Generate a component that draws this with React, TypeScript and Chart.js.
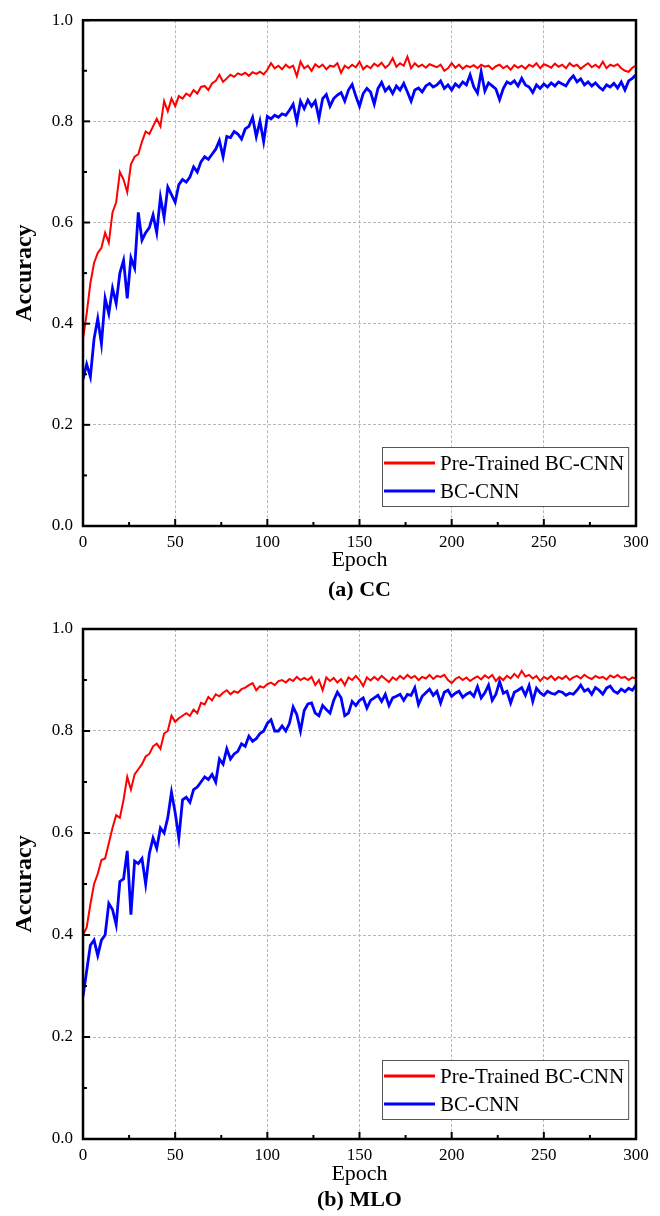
import React, { useEffect, useRef } from "react";
import { Chart, registerables } from "chart.js";

Chart.register(...registerables);

// ---------- data ----------
const EPOCHS = Array.from({ length: 151 }, (_, i) => i * 2);
const SERIES_LABELS = ["Pre-Trained BC-CNN", "BC-CNN"];
const SERIES_COLORS = ["#ff0000", "#0000ff"];
const X_LABEL = "Epoch";
const Y_LABEL = "Accuracy";
const CAPTIONS = ["(a) CC", "(b) MLO"];

const CC_PRETRAINED = [
  0.37, 0.42, 0.48, 0.52, 0.54, 0.55, 0.58, 0.56, 0.62, 0.64,
  0.70, 0.685, 0.66, 0.715, 0.73, 0.735, 0.76, 0.78, 0.775, 0.79,
  0.805, 0.79, 0.84, 0.82, 0.845, 0.83, 0.85, 0.845, 0.855, 0.85,
  0.862, 0.855, 0.868, 0.87, 0.862, 0.875, 0.88, 0.892, 0.878, 0.885,
  0.892, 0.888, 0.895, 0.892, 0.896, 0.89, 0.897, 0.894, 0.898, 0.893,
  0.902, 0.915, 0.905, 0.91, 0.903, 0.912, 0.906, 0.91, 0.889, 0.918,
  0.905, 0.91, 0.9, 0.913, 0.907, 0.912, 0.903, 0.91, 0.908, 0.915,
  0.896, 0.91, 0.905, 0.912, 0.907, 0.918, 0.903, 0.91, 0.905, 0.914,
  0.909, 0.916, 0.906, 0.912, 0.925, 0.908, 0.915, 0.91, 0.928, 0.905,
  0.915, 0.908, 0.912, 0.906, 0.913, 0.91, 0.907, 0.912, 0.9, 0.905,
  0.915, 0.906, 0.912, 0.904, 0.91, 0.907, 0.911, 0.905, 0.912, 0.908,
  0.91, 0.903, 0.909, 0.912, 0.905, 0.91, 0.902, 0.911, 0.906, 0.91,
  0.904, 0.912, 0.908, 0.915, 0.905, 0.913, 0.91, 0.906, 0.914, 0.908,
  0.912, 0.905, 0.915, 0.909, 0.912, 0.904, 0.91, 0.915, 0.907, 0.912,
  0.906, 0.918, 0.905, 0.912, 0.909, 0.913, 0.905, 0.9, 0.898, 0.906,
  0.91,
];

const CC_BCNN = [
  0.29, 0.32, 0.295, 0.37, 0.41, 0.36, 0.45, 0.42, 0.47, 0.44,
  0.50, 0.525, 0.45, 0.53, 0.51, 0.62, 0.565, 0.58, 0.59, 0.615,
  0.58, 0.65, 0.61, 0.67, 0.655, 0.64, 0.675, 0.685, 0.68, 0.69,
  0.71, 0.70, 0.72, 0.73, 0.725, 0.735, 0.745, 0.762, 0.73, 0.77,
  0.768, 0.78, 0.775, 0.765, 0.785, 0.79, 0.808, 0.77, 0.80, 0.76,
  0.81, 0.805, 0.812, 0.808, 0.815, 0.812, 0.822, 0.834, 0.80, 0.84,
  0.825, 0.842, 0.83, 0.84, 0.806, 0.845, 0.853, 0.83, 0.845, 0.852,
  0.857, 0.84, 0.862, 0.873, 0.85, 0.83, 0.855, 0.865, 0.858, 0.834,
  0.865, 0.877, 0.86, 0.868, 0.855, 0.87, 0.862, 0.875, 0.858, 0.84,
  0.862, 0.866, 0.858, 0.87, 0.875, 0.868, 0.872, 0.88, 0.865, 0.872,
  0.862, 0.874, 0.868, 0.878, 0.872, 0.892, 0.868, 0.856, 0.898, 0.86,
  0.876, 0.87, 0.864, 0.843, 0.865, 0.878, 0.874, 0.88, 0.87, 0.885,
  0.872, 0.868, 0.857, 0.872, 0.865, 0.874, 0.868, 0.876, 0.87, 0.878,
  0.874, 0.87, 0.882, 0.89, 0.878, 0.884, 0.872, 0.878, 0.87, 0.876,
  0.868, 0.862, 0.872, 0.868, 0.875, 0.866, 0.878, 0.862, 0.88, 0.885,
  0.892,
];

const MLO_PRETRAINED = [
  0.40, 0.415, 0.46, 0.50, 0.52, 0.547, 0.55, 0.58, 0.61, 0.635,
  0.63, 0.665, 0.71, 0.685, 0.715, 0.725, 0.735, 0.75, 0.755, 0.77,
  0.775, 0.765, 0.795, 0.80, 0.83, 0.818, 0.825, 0.83, 0.835, 0.83,
  0.842, 0.835, 0.855, 0.852, 0.867, 0.86, 0.872, 0.868, 0.875, 0.88,
  0.872, 0.878, 0.875, 0.882, 0.885, 0.89, 0.894, 0.88, 0.888, 0.885,
  0.892, 0.895, 0.89, 0.898, 0.9, 0.895, 0.902, 0.898, 0.906, 0.9,
  0.904, 0.9, 0.906, 0.89, 0.9, 0.88, 0.905, 0.898, 0.904, 0.895,
  0.902, 0.89, 0.905, 0.9, 0.908, 0.9, 0.888, 0.905, 0.899, 0.906,
  0.9, 0.908, 0.902, 0.896, 0.905, 0.9, 0.908, 0.902, 0.91, 0.904,
  0.908, 0.9, 0.906, 0.903, 0.91, 0.902, 0.908, 0.906, 0.91, 0.9,
  0.894, 0.902, 0.906, 0.9, 0.905, 0.898, 0.903, 0.907, 0.901, 0.909,
  0.904, 0.91, 0.898, 0.906, 0.9, 0.908, 0.903, 0.912, 0.905, 0.918,
  0.907, 0.91, 0.903, 0.908, 0.898, 0.906, 0.902, 0.908, 0.9, 0.906,
  0.902, 0.908, 0.9, 0.905, 0.908, 0.903, 0.91, 0.905, 0.902, 0.908,
  0.904, 0.906, 0.901, 0.909, 0.905, 0.91, 0.904, 0.906, 0.9, 0.905,
  0.903,
];

const MLO_BCNN = [
  0.28, 0.33, 0.38, 0.39, 0.36, 0.39, 0.40, 0.462, 0.45, 0.42,
  0.505, 0.51, 0.565, 0.44, 0.545, 0.54, 0.55, 0.50, 0.56, 0.59,
  0.57, 0.61, 0.60, 0.63, 0.68, 0.64, 0.59, 0.665, 0.67, 0.66,
  0.685, 0.69, 0.70, 0.71, 0.705, 0.715, 0.70, 0.745, 0.735, 0.765,
  0.745, 0.755, 0.76, 0.775, 0.77, 0.79, 0.78, 0.785, 0.795, 0.80,
  0.815, 0.822, 0.80, 0.80, 0.81, 0.80, 0.815, 0.847, 0.832, 0.80,
  0.84, 0.853, 0.855, 0.835, 0.83, 0.85, 0.842, 0.835, 0.86, 0.876,
  0.865, 0.83, 0.835, 0.858, 0.85, 0.86, 0.865, 0.845, 0.86, 0.865,
  0.87, 0.858, 0.872, 0.85, 0.865, 0.868, 0.872, 0.86, 0.872, 0.87,
  0.885, 0.852, 0.868, 0.875, 0.882, 0.87, 0.878, 0.855, 0.876, 0.88,
  0.868, 0.874, 0.878, 0.866, 0.872, 0.876, 0.868, 0.887, 0.865, 0.875,
  0.89, 0.86, 0.872, 0.897, 0.874, 0.878, 0.855, 0.876, 0.88, 0.885,
  0.87, 0.889, 0.858, 0.884, 0.875, 0.87, 0.878, 0.874, 0.872, 0.878,
  0.876, 0.87, 0.874, 0.872, 0.88, 0.89, 0.878, 0.882, 0.872, 0.885,
  0.88, 0.872, 0.884, 0.888, 0.878, 0.874, 0.882, 0.877, 0.884, 0.88,
  0.89,
];

const X_MIN = 0;
const X_MAX = 300;
const X_STEP = 50;
const Y_MIN = 0;
const Y_MAX = 1;
const Y_STEP = 0.2;

// ---------- plugins ----------
const FONT = '"Liberation Serif", "Times New Roman", serif';

const frameTicks = {
  id: "frameTicks",
  afterDatasetsDraw(chart: any) {
    const { ctx, chartArea: a, scales } = chart;
    const x = scales.x;
    const y = scales.y;
    ctx.save();
    ctx.strokeStyle = "#000";
    ctx.lineWidth = 2;
    const seg = (x1: number, y1: number, x2: number, y2: number) => {
      ctx.beginPath();
      ctx.moveTo(x1, y1);
      ctx.lineTo(x2, y2);
      ctx.stroke();
    };
    const xv = x.ticks.map((t: any) => t.value);
    xv.forEach((v: number, i: number) => {
      const px = x.getPixelForValue(v);
      seg(px, a.bottom, px, a.bottom - 7);
      if (i < xv.length - 1) {
        const m = x.getPixelForValue((v + xv[i + 1]) / 2);
        seg(m, a.bottom, m, a.bottom - 4);
      }
    });
    const yv = y.ticks.map((t: any) => t.value);
    yv.forEach((v: number, i: number) => {
      const py = y.getPixelForValue(v);
      seg(a.left, py, a.left + 7, py);
      if (i < yv.length - 1) {
        const m = y.getPixelForValue((v + yv[i + 1]) / 2);
        seg(a.left, m, a.left + 4, m);
      }
    });
    ctx.lineWidth = 2.5;
    ctx.strokeRect(a.left, a.top, a.right - a.left, a.bottom - a.top);
    ctx.restore();
  },
};

const boxLegend = {
  id: "boxLegend",
  afterDraw(chart: any) {
    const { ctx, chartArea: a } = chart;
    const items = chart.data.datasets;
    ctx.save();
    ctx.font = `21px ${FONT}`;
    const textW = Math.max(...items.map((d: any) => ctx.measureText(d.label).width));
    const sample = 51;
    const gap = 5;
    const padL = 2;
    const padR = 4;
    const rowH = 28;
    const w = padL + sample + gap + textW + padR;
    const h = 16 + (items.length - 1) * rowH + 15;
    const right = a.right - 8;
    const bottom = a.bottom - 20;
    const left = Math.round(right - w);
    const top = Math.round(bottom - h);
    ctx.fillStyle = "#fff";
    ctx.fillRect(left, top, w, h);
    ctx.strokeStyle = "#555";
    ctx.lineWidth = 1;
    ctx.strokeRect(left + 0.5, top + 0.5, w, h);
    items.forEach((d: any, i: number) => {
      const cy = top + 16 + i * rowH;
      ctx.strokeStyle = d.borderColor;
      ctx.lineWidth = 3;
      ctx.beginPath();
      ctx.moveTo(left + padL, cy);
      ctx.lineTo(left + padL + sample, cy);
      ctx.stroke();
      ctx.fillStyle = "#000";
      ctx.textBaseline = "middle";
      ctx.textAlign = "left";
      ctx.fillText(d.label, left + padL + sample + gap, cy + 1);
    });
    ctx.restore();
  },
};

// ---------- chart panel ----------
type PanelProps = {
  caption: string;
  pretrained: number[];
  bcnn: number[];
  top: number;
  height: number;
  padTop: number;
  xHeight: number;
  epochPadBottom: number;
  captionPad: { top: number; bottom: number };
};

function Panel(p: PanelProps) {
  const ref = useRef<HTMLCanvasElement | null>(null);
  useEffect(() => {
    if (!ref.current) return;
    const mk = (vals: number[]) => EPOCHS.map((e, i) => ({ x: e, y: vals[i] }));
    const chart = new Chart(ref.current, {
      type: "line",
      data: {
        datasets: [
          {
            label: SERIES_LABELS[0],
            data: mk(p.pretrained),
            borderColor: SERIES_COLORS[0],
            borderWidth: 2,
            pointRadius: 0,
            tension: 0,
            fill: false,
          },
          {
            label: SERIES_LABELS[1],
            data: mk(p.bcnn),
            borderColor: SERIES_COLORS[1],
            borderWidth: 2.8,
            pointRadius: 0,
            tension: 0,
            fill: false,
          },
        ],
      },
      options: {
        animation: false,
        responsive: false,
        maintainAspectRatio: false,
        layout: { padding: { top: p.padTop, right: 24, left: 0, bottom: 0 } },
        plugins: {
          legend: { display: false },
          tooltip: { enabled: false },
          title: {
            display: true,
            text: p.caption,
            position: "bottom",
            fullSize: false,
            color: "#000",
            font: { family: FONT, size: 22, weight: "bold" },
            padding: p.captionPad,
          },
        },
        scales: {
          x: {
            type: "linear",
            min: X_MIN,
            max: X_MAX,
            ticks: {
              stepSize: X_STEP,
              color: "#000",
              font: { family: FONT, size: 17 },
              padding: 6,
              maxRotation: 0,
            },
            grid: { color: "#b8b8b8", lineWidth: 1, drawTicks: false },
            border: { display: false, dash: [3, 2] },
            title: {
              display: true,
              text: X_LABEL,
              color: "#000",
              font: { family: FONT, size: 22 },
              padding: { top: 0, bottom: p.epochPadBottom },
            },
            afterFit: (s: any) => {
              s.height = p.xHeight;
            },
          },
          y: {
            min: Y_MIN,
            max: Y_MAX,
            ticks: {
              stepSize: Y_STEP,
              color: "#000",
              font: { family: FONT, size: 17 },
              padding: 10,
              callback: (v: any) => Number(v).toFixed(1),
            },
            grid: { color: "#b8b8b8", lineWidth: 1, drawTicks: false },
            border: { display: false, dash: [3, 2] },
            title: {
              display: true,
              text: Y_LABEL,
              color: "#000",
              font: { family: FONT, size: 24, weight: "bold" },
              padding: { top: 10, bottom: 0 },
            },
            afterFit: (s: any) => {
              s.width = 83;
            },
          },
        },
      } as any,
      plugins: [frameTicks, boxLegend],
    });
    return () => chart.destroy();
  }, []);
  return (
    <canvas
      ref={ref}
      width={660}
      height={p.height}
      style={{ position: "absolute", left: 0, top: p.top, width: 660, height: p.height }}
    />
  );
}

export default function App() {
  return (
    <div style={{ position: "absolute", left: 0, top: 0, width: 660, height: 1216, background: "#fff" }}>
      <Panel
        caption={CAPTIONS[0]}
        pretrained={CC_PRETRAINED}
        bcnn={CC_BCNN}
        top={0}
        height={605}
        padTop={15}
        xHeight={51.6}
        epochPadBottom={4.4}
        captionPad={{ top: 0, bottom: 1 }}
      />
      <Panel
        caption={CAPTIONS[1]}
        pretrained={MLO_PRETRAINED}
        bcnn={MLO_BCNN}
        top={605}
        height={611}
        padTop={24}
        xHeight={48.6}
        epochPadBottom={0}
        captionPad={{ top: 0, bottom: 2 }}
      />
    </div>
  );
}
